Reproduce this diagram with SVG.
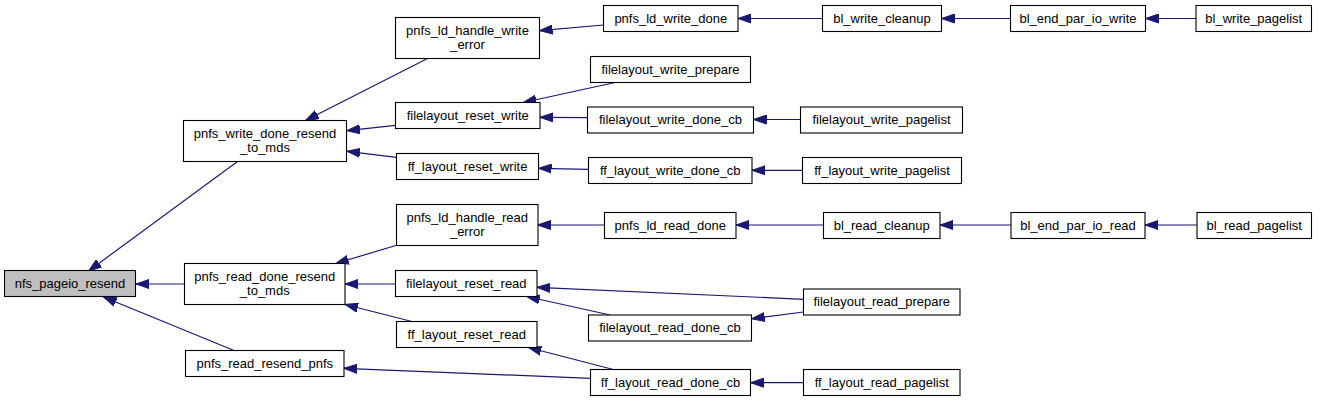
<svg xmlns="http://www.w3.org/2000/svg" width="1320" height="401" viewBox="0 0 1320 401">
<defs>
<style>
.n rect{fill:#ffffff;stroke:#000000;stroke-width:1.1}
.n.cur rect{fill:#bfbfbf}
.n text{font-family:"Liberation Sans",Arial,Helvetica,sans-serif;font-size:13px;fill:#000000;text-anchor:middle}
.e path{fill:none;stroke:#191970;stroke-width:1.2;marker-end:url(#arr)}
</style>
<marker id="arr" markerUnits="userSpaceOnUse" markerWidth="14" markerHeight="10" viewBox="0 0 14 10" refX="13" refY="5" orient="auto">
<path d="M0,0.5 L13,5 L0,9.5 z" fill="#191970" stroke="#191970" stroke-width="1"/>
</marker>
</defs>
<rect width="1320" height="401" fill="#ffffff"/>
<g id="edges" class="e">
<path d="M237.5,161.5 L88.5,271"/>
<path d="M184.5,284 L136,284"/>
<path d="M234,350.5 L103.5,297"/>
<path d="M427.5,58.5 L305.5,120.5"/>
<path d="M395.5,125.3 L347,130.7"/>
<path d="M396.5,157.3 L347,151.3"/>
<path d="M397.5,245 L335.7,263.5"/>
<path d="M395.5,284 L345,284"/>
<path d="M412,321.5 L345,304.5"/>
<path d="M590.5,378.3 L344,368.3"/>
<path d="M613.3,369.5 L528.3,347.5"/>
<path d="M610,315 L526.7,296.5"/>
<path d="M803.5,299.3 L537,287.3"/>
<path d="M803.5,312 L751.7,318.7"/>
<path d="M604.5,225 L537.5,225"/>
<path d="M823.5,225 L736,225"/>
<path d="M1011,225 L940,225"/>
<path d="M1197,225 L1145,225"/>
<path d="M803.5,382.7 L750.5,382.7"/>
<path d="M603.5,25 L539.5,30.7"/>
<path d="M822.5,18.5 L738,18.5"/>
<path d="M1010.5,18.5 L941.5,18.5"/>
<path d="M1196,18.5 L1145.5,18.5"/>
<path d="M615,82.5 L523.3,102.5"/>
<path d="M587.5,117.7 L540,117.3"/>
<path d="M800.5,119.5 L753.5,119.5"/>
<path d="M588.5,169.3 L538.5,168.3"/>
<path d="M802.5,170.3 L752,170.3"/>
</g>
<g id="nfs_pageio_resend" class="n cur"><rect x="4.5" y="270.5" width="131" height="26"/><text x="70" y="287.5">nfs_pageio_resend</text></g>
<g id="pnfs_write_done_resend_to_mds" class="n"><rect x="183.5" y="120.5" width="163" height="41"/><text x="265" y="137.5">pnfs_write_done_resend</text><text x="265" y="151.5">_to_mds</text></g>
<g id="pnfs_read_done_resend_to_mds" class="n"><rect x="184.5" y="263.5" width="160.5" height="41"/><text x="264.75" y="280.5">pnfs_read_done_resend</text><text x="264.75" y="294.5">_to_mds</text></g>
<g id="pnfs_read_resend_pnfs" class="n"><rect x="185.5" y="350.5" width="158.5" height="26"/><text x="264.75" y="367.5">pnfs_read_resend_pnfs</text></g>
<g id="pnfs_ld_handle_write_error" class="n"><rect x="395.5" y="17.5" width="144" height="41"/><text x="467.5" y="34.5">pnfs_ld_handle_write</text><text x="467.5" y="48.5">_error</text></g>
<g id="filelayout_reset_write" class="n"><rect x="395.5" y="102.5" width="144.5" height="26"/><text x="467.75" y="119.5">filelayout_reset_write</text></g>
<g id="ff_layout_reset_write" class="n"><rect x="396.5" y="153.5" width="142" height="26"/><text x="467.5" y="170.5">ff_layout_reset_write</text></g>
<g id="pnfs_ld_handle_read_error" class="n"><rect x="396.5" y="204.5" width="141.5" height="41"/><text x="467.25" y="221.5">pnfs_ld_handle_read</text><text x="467.25" y="235.5">_error</text></g>
<g id="filelayout_reset_read" class="n"><rect x="395.5" y="270.5" width="141.5" height="26"/><text x="466.25" y="287.5">filelayout_reset_read</text></g>
<g id="ff_layout_reset_read" class="n"><rect x="396.5" y="321.5" width="140.5" height="26"/><text x="466.75" y="338.5">ff_layout_reset_read</text></g>
<g id="pnfs_ld_write_done" class="n"><rect x="603.5" y="5.5" width="134.5" height="26"/><text x="670.75" y="22.5">pnfs_ld_write_done</text></g>
<g id="filelayout_write_prepare" class="n"><rect x="590.5" y="56.5" width="160" height="26"/><text x="670.5" y="73.5">filelayout_write_prepare</text></g>
<g id="filelayout_write_done_cb" class="n"><rect x="587.5" y="107" width="166" height="26"/><text x="670.5" y="124">filelayout_write_done_cb</text></g>
<g id="ff_layout_write_done_cb" class="n"><rect x="588.5" y="157.5" width="163.5" height="26"/><text x="670.25" y="174.5">ff_layout_write_done_cb</text></g>
<g id="pnfs_ld_read_done" class="n"><rect x="604.5" y="212.5" width="131.5" height="26"/><text x="670.25" y="229.5">pnfs_ld_read_done</text></g>
<g id="filelayout_read_done_cb" class="n"><rect x="588.5" y="315" width="163" height="26"/><text x="670" y="332">filelayout_read_done_cb</text></g>
<g id="ff_layout_read_done_cb" class="n"><rect x="590.5" y="369.5" width="160" height="26"/><text x="670.5" y="386.5">ff_layout_read_done_cb</text></g>
<g id="bl_write_cleanup" class="n"><rect x="822.5" y="5.5" width="119" height="26"/><text x="882" y="22.5">bl_write_cleanup</text></g>
<g id="filelayout_write_pagelist" class="n"><rect x="800.5" y="107" width="162" height="26"/><text x="881.5" y="124">filelayout_write_pagelist</text></g>
<g id="ff_layout_write_pagelist" class="n"><rect x="802.5" y="157.5" width="159" height="26"/><text x="882" y="174.5">ff_layout_write_pagelist</text></g>
<g id="bl_read_cleanup" class="n"><rect x="823.5" y="212.5" width="116.5" height="26"/><text x="881.75" y="229.5">bl_read_cleanup</text></g>
<g id="filelayout_read_prepare" class="n"><rect x="803.5" y="289" width="156.5" height="26"/><text x="881.75" y="306">filelayout_read_prepare</text></g>
<g id="ff_layout_read_pagelist" class="n"><rect x="803.5" y="369.5" width="156.5" height="26"/><text x="881.75" y="386.5">ff_layout_read_pagelist</text></g>
<g id="bl_end_par_io_write" class="n"><rect x="1010.5" y="5.5" width="135" height="26"/><text x="1078" y="22.5">bl_end_par_io_write</text></g>
<g id="bl_end_par_io_read" class="n"><rect x="1011" y="212.5" width="134" height="26"/><text x="1078" y="229.5">bl_end_par_io_read</text></g>
<g id="bl_write_pagelist" class="n"><rect x="1196" y="5.5" width="115.5" height="26"/><text x="1253.75" y="22.5">bl_write_pagelist</text></g>
<g id="bl_read_pagelist" class="n"><rect x="1197" y="212.5" width="114.5" height="26"/><text x="1254.25" y="229.5">bl_read_pagelist</text></g>
</svg>
